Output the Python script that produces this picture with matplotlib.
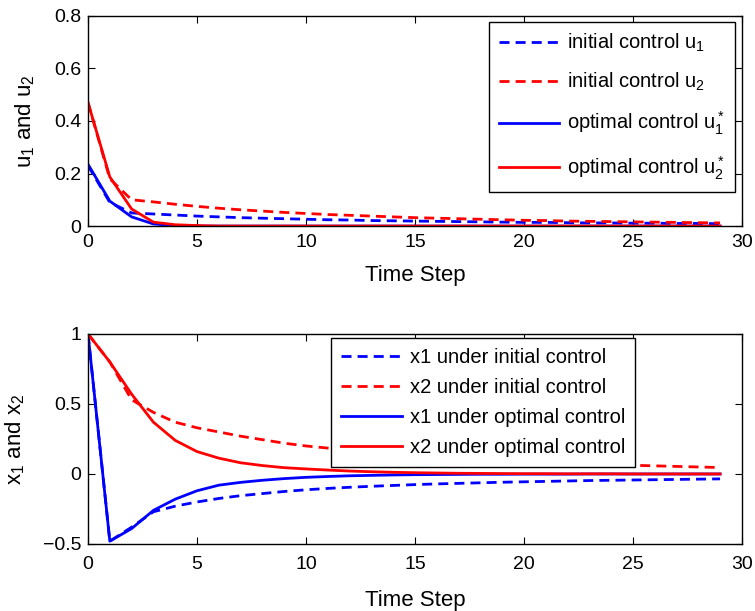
import numpy as np
import matplotlib
matplotlib.use("Agg")
import matplotlib.pyplot as plt

plt.rcParams["font.family"] = ["Liberation Sans", "DejaVu Sans"]
plt.rcParams["mathtext.fontset"] = "custom"
plt.rcParams["mathtext.rm"] = "Liberation Sans"
plt.rcParams["mathtext.it"] = "Liberation Sans"
plt.rcParams["font.size"] = 14

# time steps 0..29
t = list(range(30))

# controls
u1_init = [0.23, 0.09, 0.05, 0.046, 0.042, 0.038, 0.035, 0.032, 0.030, 0.028,
           0.026, 0.024, 0.023, 0.021, 0.020, 0.019, 0.018, 0.017, 0.016, 0.015,
           0.014, 0.014, 0.013, 0.012, 0.012, 0.011, 0.011, 0.010, 0.010, 0.009]
u2_init = [0.47, 0.18, 0.10, 0.092, 0.083, 0.075, 0.068, 0.062, 0.057, 0.052,
           0.048, 0.044, 0.041, 0.038, 0.035, 0.032, 0.030, 0.028, 0.026, 0.024,
           0.022, 0.021, 0.019, 0.018, 0.017, 0.016, 0.015, 0.014, 0.013, 0.012]
u1_opt = [0.235, 0.095, 0.035, 0.008, 0.002] + [0.0] * 25
u2_opt = [0.47, 0.187, 0.065, 0.015, 0.005, 0.002] + [0.0] * 24

# states
x1_init = [1.0, -0.48, -0.38, -0.27, -0.23, -0.20, -0.175, -0.155, -0.14, -0.125,
           -0.113, -0.103, -0.095, -0.088, -0.082, -0.076, -0.071, -0.067, -0.063, -0.059,
           -0.056, -0.053, -0.050, -0.047, -0.045, -0.043, -0.041, -0.039, -0.037, -0.035]
x2_init = [1.0, 0.80, 0.53, 0.44, 0.37, 0.33, 0.30, 0.27, 0.245, 0.22,
           0.20, 0.185, 0.17, 0.155, 0.142, 0.13, 0.12, 0.11, 0.102, 0.095,
           0.088, 0.082, 0.077, 0.072, 0.067, 0.062, 0.058, 0.054, 0.05, 0.046]
x1_opt = [1.0, -0.48, -0.39, -0.26, -0.18, -0.12, -0.08, -0.06, -0.045, -0.033,
          -0.024, -0.018, -0.013, -0.010, -0.007, -0.005, -0.004, -0.003, -0.002, -0.002,
          -0.001, -0.001, -0.001, 0.0, 0.0, 0.0, 0.0, 0.0, 0.0, 0.0]
x2_opt = [1.0, 0.80, 0.57, 0.37, 0.24, 0.16, 0.113, 0.08, 0.06, 0.045,
          0.036, 0.028, 0.021, 0.016, 0.012, 0.009, 0.007, 0.005, 0.004, 0.003,
          0.002, 0.002, 0.001, 0.001, 0.001, 0.0, 0.0, 0.0, 0.0, 0.0]

BLUE = "#0000ff"
RED = "#ff0000"
DASH = (0, (3.6, 2.2))
LW = 2.0


def style_axes(ax, xpad):
    ax.tick_params(direction="in", top=True, right=True, length=5, width=0.8,
                   labelsize=14, pad=5)
    ax.tick_params(axis="x", pad=xpad)
    for s in ax.spines.values():
        s.set_linewidth(1.0)


fig = plt.figure(figsize=(7.55, 6.11), dpi=100)

ax1 = fig.add_axes([0.1166, 0.630, 0.866, 0.344])
ax1.plot(t, u1_init, color=BLUE, linestyle=DASH, linewidth=LW, label="initial control u$_1$")
ax1.plot(t, u2_init, color=RED, linestyle=DASH, linewidth=LW, label="initial control u$_2$")
ax1.plot(t, u1_opt, color=BLUE, linewidth=LW, label="optimal control u$_1^*$")
ax1.plot(t, u2_opt, color=RED, linewidth=LW, label="optimal control u$_2^*$")
ax1.set_xlim(0, 30)
ax1.set_ylim(0, 0.8)
ax1.set_xticks(range(0, 31, 5))
ax1.set_yticks([0, 0.2, 0.4, 0.6, 0.8])
ax1.set_yticklabels(["0", "0.2", "0.4", "0.6", "0.8"])
ax1.set_xlabel("Time Step", fontsize=16, labelpad=10)
ax1.set_ylabel("u$_1$ and u$_2$", fontsize=16, labelpad=12)
style_axes(ax1, 6)
leg1 = ax1.legend(loc="upper right", bbox_to_anchor=(0.989, 0.971), borderaxespad=0,
                  fancybox=False, edgecolor="black", framealpha=1, fontsize=14.5,
                  handlelength=3.0, handletextpad=0.4, labelspacing=0.83,
                  borderpad=0.5)
leg1.get_frame().set_linewidth(1.0)

ax2 = fig.add_axes([0.1166, 0.1097, 0.866, 0.3437])
ax2.plot(t, x1_init, color=BLUE, linestyle=DASH, linewidth=LW, label="x1 under initial control")
ax2.plot(t, x2_init, color=RED, linestyle=DASH, linewidth=LW, label="x2 under initial control")
ax2.plot(t, x1_opt, color=BLUE, linewidth=LW, label="x1 under optimal control")
ax2.plot(t, x2_opt, color=RED, linewidth=LW, label="x2 under optimal control")
ax2.set_xlim(0, 30)
ax2.set_ylim(-0.5, 1)
ax2.set_xticks(range(0, 31, 5))
ax2.set_yticks([-0.5, 0, 0.5, 1])
ax2.set_yticklabels(["\u22120.5", "0", "0.5", "1"])
ax2.set_xlabel("Time Step", fontsize=16, labelpad=12)
ax2.set_ylabel("x$_1$ and x$_2$", fontsize=16, labelpad=11)
style_axes(ax2, 9)
leg2 = ax2.legend(loc="upper left", bbox_to_anchor=(0.372, 0.981), borderaxespad=0,
                  fancybox=False, edgecolor="black", framealpha=1, fontsize=14.5,
                  handlelength=3.0, handletextpad=0.4, labelspacing=0.54,
                  borderpad=0.5)
leg2.get_frame().set_linewidth(1.0)

fig.savefig("out.png", dpi=100)
